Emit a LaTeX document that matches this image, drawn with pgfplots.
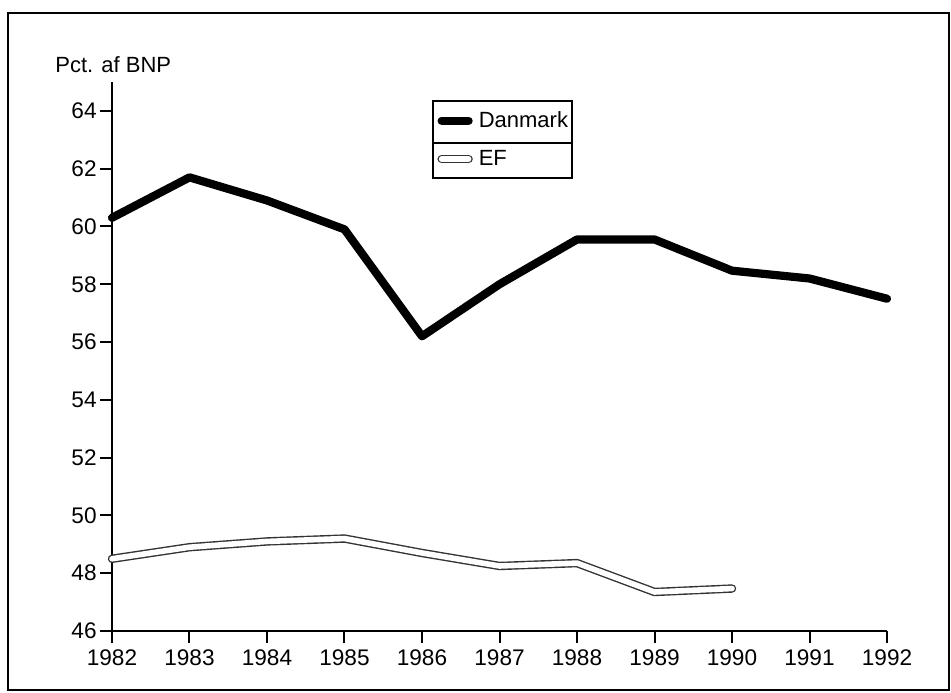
\documentclass[border=0pt]{standalone}
\usepackage{fontspec}
\setmainfont{Liberation Sans}
\usepackage{pgfplots}
\pgfplotsset{compat=1.18}
\begin{document}
\begin{tikzpicture}[x=1pt,y=1pt]
\useasboundingbox (0,0) rectangle (475.5,346);
\draw[line width=1pt] (4,1) rectangle (474.5,339.5);
\node[anchor=base west, inner sep=0pt, font=\fontsize{11}{13}\selectfont] at (27.5,309.5) {Pct. af BNP};
\begin{axis}[
  at={(56pt,30.5pt)}, anchor=south west,
  scale only axis, width=387.5pt, height=274.5pt,
  xmin=1982, xmax=1992, ymin=46, ymax=65,
  axis lines*=left,
  axis line style={line width=1pt},
  xtick={1982,1983,...,1992}, ytick={46,48,...,64},
  tick align=outside, major tick length=6pt,
  tick style={line width=1pt, black},
  x tick label style={/pgf/number format/1000 sep={}},
  y tick label style={inner xsep=1.5pt},
  /pgf/number format/assume math mode=true,
  tick label style={font=\fontsize{11.3}{13}\selectfont},
  clip=false,
  legend cell align=left,
  legend style={at={(axis description cs:0.4142,0.9654)}, anchor=north west,
    draw=none, fill=none, inner xsep=2pt, inner ysep=0pt, row sep=0pt,
    font=\fontsize{11}{13}\selectfont,
    nodes={inner xsep=3pt, inner ysep=0pt, minimum height=19.25pt}},
  legend image code/.code={\draw[#1] (1.5pt,0pt) -- (15pt,0pt);},
]
\addplot[black, line width=4.1pt, line join=round, line cap=round] coordinates {
  (1982,60.3) (1983,61.7) (1984,60.9) (1985,59.9) (1986,56.2) (1987,58.0)
  (1988,59.55) (1989,59.55) (1990,58.47) (1991,58.2) (1992,57.5)};
\addlegendentry{Danmark}
\addplot[black!80, line width=0.7pt, double=white, double distance=2.8pt, line join=round, line cap=round] coordinates {
  (1982,48.5) (1983,48.9) (1984,49.1) (1985,49.2) (1986,48.7) (1987,48.25)
  (1988,48.35) (1989,47.35) (1990,47.47)};
\addlegendentry{EF}
\end{axis}
\draw[line width=1pt] (216.5,257) rectangle (286,295.5);
\draw[line width=1pt] (216.5,274.5) -- (286,274.5);
\end{tikzpicture}
\end{document}
